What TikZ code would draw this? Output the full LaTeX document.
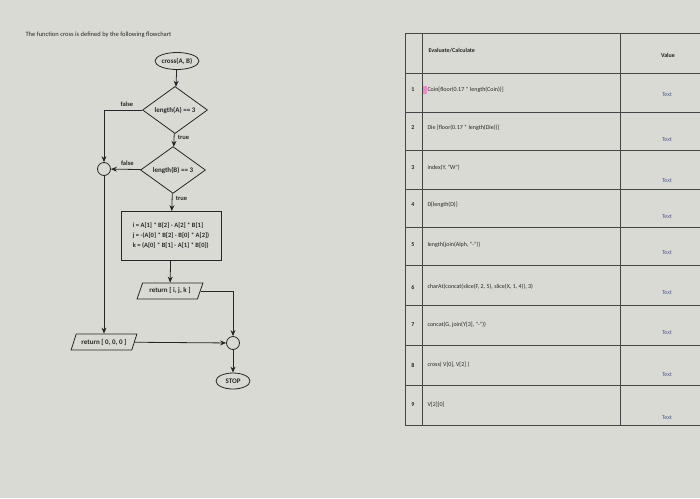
\documentclass[tikz,border=0pt]{standalone}
\usepackage{fontspec}
\setmainfont{Carlito}
\usetikzlibrary{positioning,arrows.meta,shapes.geometric}
\definecolor{paper}{HTML}{DADAD5}
\definecolor{ink}{HTML}{262626}
\definecolor{rule}{HTML}{454545}
\definecolor{txtblue}{HTML}{4F5E8C}

\begin{document}
\begin{tikzpicture}[x=1pt,y=-1pt,
  every node/.style={font=\fontsize{7}{8}\selectfont\bfseries,text=ink},
  term/.style={ellipse,draw=ink,thick,inner sep=0pt,minimum width=44pt,minimum height=17pt},
  decide/.style={diamond,draw=ink,thick,inner sep=0pt,minimum width=65pt,minimum height=35pt},
  iobox/.style={trapezium,trapezium left angle=62,trapezium right angle=118,trapezium stretches=true,
    draw=ink,thick,inner sep=1pt,minimum width=66pt,minimum height=16pt},
  joint/.style={circle,draw=ink,thick,minimum size=13pt,inner sep=0pt},
  flow/.style={-{Stealth[length=6pt,width=5pt]},thick,ink},
  lbl/.style={font=\fontsize{6.5}{7}\selectfont\bfseries},
  tab/.style={font=\fontsize{6}{7}\selectfont}]
  \useasboundingbox[fill=paper] (0,0) rectangle (700,498);
  \node[anchor=west,font=\fontsize{6.5}{7}\selectfont] (title) at (22,35){The function cross is defined by the following flowchart};

  % flowchart
  \node[term] (start) at (177,61){cross(A, B)};
  \node[decide] (d1) at (175,110){length(A) == 3};
  \node[decide] (d2) at (173,170){length(B) == 3};
  \node[joint] (j1) at (104,169){};
  \node[draw=ink,thick,minimum width=100pt,minimum height=49pt,align=left,font=\fontsize{6.5}{10}\selectfont\bfseries] (calc) at (171,236){%
    i = A[1] * B[2] - A[2] * B[1]\\ j = -(A[0] * B[2] - B[0] * A[2])\\ k = (A[0] * B[1] - A[1] * B[0])};
  \node[iobox] (ret1) at (170,291){return [ i, j, k ]};
  \node[iobox] (ret0) at (104,342){return [ 0, 0, 0 ]};
  \node[joint] (j2) at (233,343){};
  \node[term,minimum width=34pt,minimum height=16pt] (stop) at (233,381){STOP};

  \draw[flow] (start) -- (d1);
  \draw[flow] (d1.west) -| node[lbl,above,pos=.2] (f1){false} (j1);
  \draw[flow] (d1) -- node[lbl,right,pos=.3] (t1){true} (d2);
  \draw[flow] (d2) -- node[lbl,above,pos=.45] (f2){false} (j1);
  \draw[flow] (d2) -- node[lbl,right,pos=.3] (t2){true} (calc);
  \draw[flow] (calc) -- (ret1);
  \draw[flow] (j1) -- (ret0);
  \draw[flow] (ret0) -- (j2);
  \draw[flow] (ret1.east) -| (j2);
  \draw[flow] (j2) -- (stop);

  % table
  \draw[rule,line width=0.5pt] (405,33) rectangle (710,425);
  \draw[rule,line width=0.5pt] (422,33) -- (422,425) (620,33) -- (620,425);
  \foreach \y in {73,112,150,189,227,265,305,345,385}
    \draw[rule,line width=0.5pt] (405,\y) -- (710,\y);
  \node[anchor=west,font=\fontsize{6}{7}\selectfont\bfseries] (hd1) at (425,51){Evaluate/Calculate};
  \node[font=\fontsize{6}{7}\selectfont\bfseries] (hd2) at (668,55){Value};
  \fill[red!40!magenta!60!white,opacity=.7] (423,86) rectangle (427,94);
  \foreach \n/\ya/\yb/\ex in {
      1/90/95/{Coin[floor(0.17 * length(Coin))]},
      2/128/140/{Die [floor(0.17 * length(Die))]},
      3/168/181/{index(Y, “W”)},
      4/205/217/{D[length(D)]},
      5/245/253/{length(join(Alph, “-”))},
      6/287/293/{charAt(concat(slice(F, 2, 5), slice(X, 1, 4)), 3)},
      7/325/333/{concat(G, join(Y[3], “-”))},
      8/365/375/{cross( V[0], V[2] )},
      9/405/418/{V[2][0]}}{
    \node[font=\fontsize{6}{7}\selectfont\bfseries] (n\n) at (413,\ya){\n};
    \node[tab,anchor=west] (e\n) at (424,\ya){\ex};
    \node[tab,text=txtblue] (v\n) at (667,\yb){Text};
  }
\end{tikzpicture}
\end{document}
